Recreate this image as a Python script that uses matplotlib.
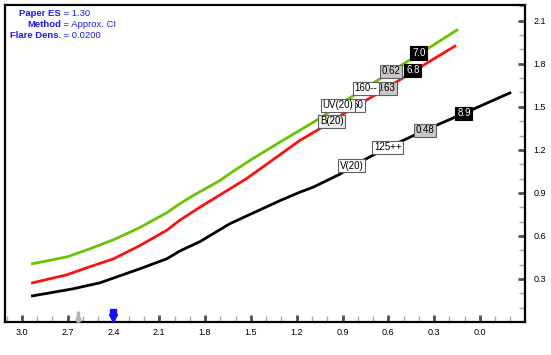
import numpy as np
import matplotlib
matplotlib.use("Agg")
import matplotlib.pyplot as plt
import matplotlib.transforms as mtransforms

plt.rcParams['font.family'] = ['Liberation Sans', 'DejaVu Sans']

# ================================
# data
# ================================
green_x = [2.93, 2.70, 2.555, 2.40, 2.23, 2.05, 1.965, 1.88, 1.703, 1.638, 1.507,
           1.31, 1.048, 0.898, 0.603, 0.302, 0.151]
green_y = [0.406, 0.455, 0.51, 0.573, 0.657, 0.762, 0.825, 0.880, 0.986, 1.035, 1.126,
           1.254, 1.42, 1.531, 1.73, 1.933, 2.035]

red_x = [2.93, 2.705, 2.555, 2.40, 2.23, 2.05, 1.965, 1.834, 1.528, 1.332, 1.225,
         1.179, 1.005, 0.898, 0.603, 0.302, 0.164]
red_y = [0.273, 0.329, 0.385, 0.44, 0.531, 0.64, 0.71, 0.80, 1.0, 1.149, 1.231,
         1.266, 1.375, 1.448, 1.636, 1.835, 1.923]

black_x = [2.93, 2.666, 2.489, 2.227, 2.05, 1.965, 1.834, 1.638, 1.526, 1.31, 1.179,
           1.094, 0.918, 0.839, 0.603, 0.361, 0.105, -0.196]
black_y = [0.182, 0.231, 0.273, 0.371, 0.441, 0.495, 0.56, 0.685, 0.74, 0.846, 0.905,
           0.939, 1.03, 1.085, 1.217, 1.336, 1.455, 1.597]

# labels riding on the curves: text, background
label_text = ["0.63", "160--", "7.0", "0.62", "6.8", "60", "UV(20)", "B(20)",
              "125++", "0.48", "8.9", "V(20)"]
label_bg = ["#c8c8c8", "white", "black", "#c8c8c8", "black", "white", "white", "#ececec",
            "white", "#c8c8c8", "black", "white"]

info_keys = ["Paper ES", "Method", "Flare Dens."]
info_vals = ["1.30", "Approx. CI", "0.0200"]

grey_marker = 2.63
blue_marker = 2.40

xticks = np.round(np.arange(3.0, -0.01, -0.3), 1)
yticks = np.round(np.arange(0.3, 2.11, 0.3), 1)

# ================================
# figure
# ================================
fig = plt.figure(figsize=(5.51, 3.55), dpi=100)
ax = fig.add_axes([5 / 551, 33 / 355, 520 / 551, 317 / 355])

ax.plot(green_x, green_y, color="#66c400", lw=2.0, zorder=2)
ax.plot(red_x, red_y, color="#ff1010", lw=2.0, zorder=2)
ax.plot(black_x, black_y, color="black", lw=2.0, zorder=2)

ax.set_xlim(3.11, -0.295)
ax.set_ylim(0.0, 2.21)

# label positions (data coords)
label_pos = [(0.616, 1.629), (0.747, 1.629), (0.400, 1.874), (0.583, 1.748),
             (0.439, 1.755), (0.800, 1.510), (0.931, 1.510), (0.970, 1.399),
             (0.603, 1.217), (0.361, 1.336), (0.105, 1.455), (0.839, 1.091)]
for txt, bg, (lx, ly) in zip(label_text, label_bg, label_pos):
    fg = "white" if bg == "black" else "black"
    ec = "#606060" if bg != "black" else "black"
    ax.text(lx, ly, txt, fontsize=7, color=fg, ha="center", va="center", zorder=5,
            bbox=dict(boxstyle="square,pad=0.18", fc=bg, ec=ec, lw=0.8))

# spines
for s in ax.spines.values():
    s.set_linewidth(1.6)
    s.set_color("black")

# ticks
ax.set_xticks(xticks)
ax.set_xticklabels([f"{v:.1f}" for v in xticks])
ax.set_xticks(np.round(np.arange(3.1, -0.25, -0.1), 1), minor=True)
ax.yaxis.tick_right()
ax.set_yticks(yticks)
ax.set_yticklabels([f"{v:.1f}" for v in yticks])
ax.set_yticks(np.round(np.arange(0.1, 2.21, 0.1), 1), minor=True)

ax.tick_params(axis="x", which="major", direction="in", length=5, width=2,
               color="#505050", labelsize=6.5, pad=4)
ax.tick_params(axis="x", which="minor", direction="in", length=4, width=1,
               color="#a8a8a8")
ax.tick_params(axis="y", which="major", direction="in", length=5, width=2,
               color="#505050", labelsize=6.5, pad=6, right=True, left=False)
ax.tick_params(axis="y", which="minor", direction="in", length=4, width=1,
               color="#a8a8a8", right=True, left=False)

# markers on the x axis
trans = mtransforms.blended_transform_factory(ax.transData, ax.transAxes)
ax.plot([grey_marker, grey_marker], [0.0, 0.035], color="#b4b4b4", lw=2.5,
        transform=trans, clip_on=False, zorder=6, solid_capstyle="butt")
ax.plot([grey_marker], [0.008], marker="o", ms=3.5, color="#b4b4b4",
        transform=trans, clip_on=False, zorder=6)
ax.plot([blue_marker], [0.031], marker="s", ms=5, color="#1010ff",
        transform=trans, clip_on=False, zorder=6)
ax.plot([blue_marker], [0.014], marker="v", ms=6, color="#1010ff",
        transform=trans, clip_on=False, zorder=6)

# info text top-left
for i, (k, v) in enumerate(zip(info_keys, info_vals)):
    yy = 1 - (14 + i * 10.5) / 355
    fig.text(61 / 551, yy, k, fontsize=6.8, fontweight="bold", color="#1a1aff",
             ha="right", va="center")
    fig.text(61 / 551, yy, " = " + v, fontsize=6.8, color="#1a1aff",
             ha="left", va="center")

fig.savefig("out.png", dpi=100)
